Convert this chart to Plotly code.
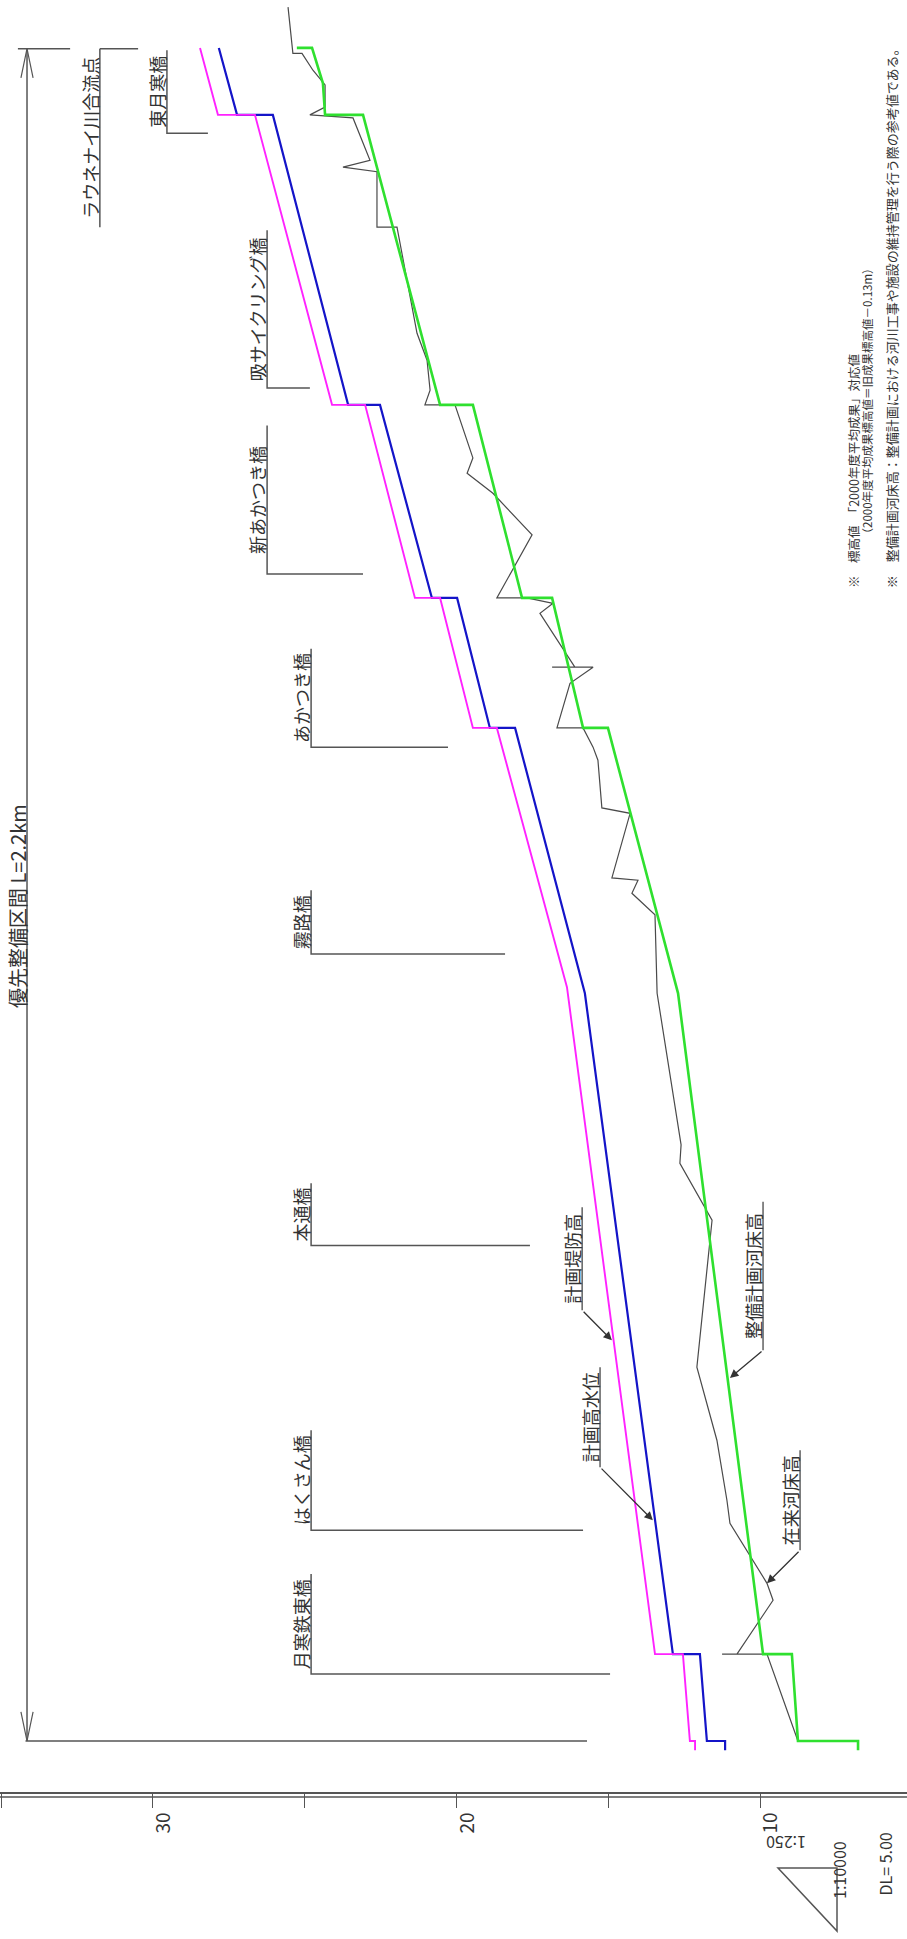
import plotly.graph_objects as go

# ---------------- data (distance from downstream end in m, elevation in m) ----------------
dike_dist = [-12, 0, 0, 113, 113, 980, 1317, 1317, 1486, 1486, 1737, 1737, 2114, 2114, 2201]
dike_elev = [12.14, 12.14, 12.31, 12.54, 13.46, 16.36, 18.67, 19.46, 20.54, 21.37, 23.01, 24.10, 26.64, 27.86, 28.45]

hwl_dist = [-12, 0, 0, 113, 113, 972, 1317, 1317, 1486, 1486, 1737, 1737, 2114, 2114, 2201]
hwl_elev = [11.15, 11.15, 11.75, 11.98, 12.87, 15.77, 18.07, 18.90, 19.98, 20.81, 22.52, 23.57, 26.05, 27.23, 27.83]

plan_bed_dist = [-12, 0, 0, 113, 113, 972, 1317, 1317, 1486, 1486, 1737, 1737, 2114, 2114, 2155, 2201, 2201]
plan_bed_elev = [6.77, 6.77, 8.75, 8.95, 9.90, 12.70, 15.01, 15.83, 16.85, 17.84, 19.46, 20.54, 23.08, 24.33, 24.40, 24.76, 25.26]

existing_bed_dist = [0, 113, 113, 113, 183, 205, 283, 313, 391, 486, 677, 751, 775, 972, 1074, 1102,
                     1119, 1122, 1206, 1213, 1275, 1292, 1317, 1317, 1375, 1396, 1396, 1396, 1466, 1479,
                     1486, 1486, 1568, 1622, 1648, 1668, 1737, 1737, 1756, 1795, 1830, 1968, 1968, 2040,
                     2046, 2055, 2110, 2114, 2124, 2153, 2172, 2194, 2194, 2254]
existing_bed_elev = [8.75, 9.77, 11.25, 10.76, 9.57, 9.77, 10.99, 11.09, 11.42, 12.08, 11.58, 12.64, 12.60,
                     13.39, 13.46, 14.22, 14.02, 14.88, 14.28, 15.21, 15.34, 15.50, 15.83, 16.69, 16.26,
                     15.50, 16.85, 16.10, 17.25, 16.82, 17.68, 18.67, 17.51, 18.80, 19.65, 19.46, 20.05,
                     21.04, 20.87, 20.97, 21.30, 21.96, 22.62, 22.62, 23.74, 22.85, 23.41, 24.83, 24.33,
                     24.33, 24.73, 25.09, 25.39, 25.55]

bridge_names = ["東月寒橋", "吸サイクリング橋", "新あかつき橋", "あかつき橋", "霧路橋", "本通橋", "はくさん橋", "月寒鉄東橋"]
bridge_dist = [2090, 1759, 1517, 1292, 1023, 644, 274, 87]
bridge_label_elev = [29.54, 26.24, 26.24, 24.79, 24.79, 24.79, 24.79, 24.79]
bridge_label_top = [2198, 1964, 1710, 1420, 1106, 725, 404, 217]
bridge_line_end_elev = [28.19, 24.83, 23.08, 20.28, 18.40, 17.58, 15.83, 14.94]

leader_names = ["計画堤防高", "計画高水位", "整備計画河床高", "在来河床高"]
leader_elev = [15.86, 15.27, 9.90, 8.68]
leader_top = [694, 486, 701, 378]
leader_bottom = [560, 356, 508, 248]
leader_tip_elev = [14.88, 13.53, 10.99, 9.77]
leader_tip_dist = [521, 287, 472, 205]

section_length_m = 2200
section_label = "優先整備区間 L=2.2km"
confluence_label = "ラウネナイ川合流点"
elev_tick_labels = ["10", "20", "30"]

notes = ["※　標高値　「2000年度平均成果」対応値",
         "（2000年度平均成果標高値＝旧成果標高値－0.13m）",
         "※　整備計画河床高：整備計画における河川工事や施設の維持管理を行う際の参考値である。"]

# ---------------- figure ----------------
FONT = "Noto Sans CJK JP"
GRAY = "#555555"
TXT = "#333333"

fig = go.Figure()

def line(xs, ys, color, width):
    fig.add_trace(go.Scatter(x=xs, y=ys, mode="lines", line=dict(color=color, width=width),
                             hoverinfo="skip", showlegend=False))

# profile lines
line(existing_bed_elev, existing_bed_dist, "#4a4a4a", 1.2)
line(plan_bed_elev, plan_bed_dist, "#2fe02f", 2.6)
line(hwl_elev, hwl_dist, "#1414c8", 2.2)
line(dike_elev, dike_dist, "#ff22ff", 1.9)

# dimension line of priority section
dim_e = 34.15
line([dim_e, dim_e], [0, section_length_m], GRAY, 1.5)
line([dim_e + 0.2, dim_e, dim_e - 0.2], [section_length_m - 38, section_length_m, section_length_m - 38], GRAY, 1.2)
line([dim_e + 0.2, dim_e, dim_e - 0.2], [38, 0, 38], GRAY, 1.2)
line([34.45, 32.73], [section_length_m, section_length_m], GRAY, 1.5)
line([31.75, 30.49], [section_length_m, section_length_m], GRAY, 1.5)
line([34.2, 15.70], [0, 0], GRAY, 1.5)
# confluence label underline
line([31.75, 31.75], [section_length_m, 1968], GRAY, 1.5)

# bridges
bx, by = [], []
for e_lab, top, d, e_end in zip(bridge_label_elev, bridge_label_top, bridge_dist, bridge_line_end_elev):
    bx += [e_lab, e_lab, e_end, None]
    by += [top, d, d, None]
line(bx, by, GRAY, 1.5)

# leader underlines
lx, ly = [], []
for e, t, b in zip(leader_elev, leader_top, leader_bottom):
    lx += [e, e, None]
    ly += [t, b, None]
line(lx, ly, GRAY, 1.4)

annotations = []
for name, e_lab, top, d in zip(bridge_names, bridge_label_elev, bridge_label_top, bridge_dist):
    annotations.append(dict(x=e_lab + 0.33, y=(top + d) / 2, xref="x", yref="y", text=name,
                            textangle=-90, showarrow=False, xanchor="center", yanchor="middle",
                            font=dict(family=FONT, size=18, color=TXT)))
for name, e, t, b, te, td in zip(leader_names, leader_elev, leader_top, leader_bottom,
                                 leader_tip_elev, leader_tip_dist):
    annotations.append(dict(x=e + 0.33, y=(t + b) / 2, xref="x", yref="y", text=name,
                            textangle=-90, showarrow=False, xanchor="center", yanchor="middle",
                            font=dict(family=FONT, size=18, color=TXT)))
    annotations.append(dict(x=te, y=td, ax=e, ay=b, xref="x", yref="y", axref="x", ayref="y",
                            text="", showarrow=True, arrowhead=2, arrowsize=1.3, arrowwidth=1.3,
                            arrowcolor=TXT, standoff=0, startstandoff=0))

annotations.append(dict(x=32.08, y=2084, xref="x", yref="y", text=confluence_label, textangle=-90,
                        showarrow=False, font=dict(family=FONT, size=18, color=TXT)))
annotations.append(dict(x=34.46, y=1085, xref="x", yref="y", text=section_label, textangle=-90,
                        showarrow=False, font=dict(family=FONT, size=20, color=TXT)))

# notes (top right)
annotations.append(dict(x=6.94, y=1496, xref="x", yref="y", text=notes[0], textangle=-90,
                        showarrow=False, yanchor="bottom", font=dict(family=FONT, size=12.5, color=TXT)))
annotations.append(dict(x=6.47, y=1559, xref="x", yref="y", text=notes[1], textangle=-90,
                        showarrow=False, yanchor="bottom", font=dict(family=FONT, size=11.5, color=TXT)))
annotations.append(dict(x=5.68, y=1496, xref="x", yref="y", text=notes[2], textangle=-90,
                        showarrow=False, yanchor="bottom", font=dict(family=FONT, size=13, color=TXT)))

# scale triangle + datum in bottom margin (paper coords)
PH = 1792.0
def py(p):
    return (PH - p) / PH
def px(p):
    return p / 907.0

annotations.append(dict(x=px(808), y=py(1857), xref="paper", yref="paper", text="1:250", textangle=180,
                        showarrow=False, font=dict(family=FONT, size=16, color=TXT)))
annotations.append(dict(x=px(853), y=py(1901), xref="paper", yref="paper", text="1:10000", textangle=-90,
                        showarrow=False, font=dict(family=FONT, size=16, color=TXT)))
annotations.append(dict(x=px(898), y=py(1898), xref="paper", yref="paper", text="DL= 5.00", textangle=-90,
                        showarrow=False, font=dict(family=FONT, size=16, color=TXT)))

shapes = [
    dict(type="path", xref="paper", yref="paper",
         path=f"M {px(778)} {py(1868)} L {px(837)} {py(1868)} L {px(837)} {py(1931)} Z",
         line=dict(color=GRAY, width=1.5)),
    dict(type="line", xref="paper", yref="paper", x0=0, x1=1, y0=py(1797), y1=py(1797),
         line=dict(color=GRAY, width=1.5)),
]

fig.update_layout(
    width=907, height=1939, autosize=False,
    margin=dict(l=0, r=0, t=0, b=147, pad=0),
    paper_bgcolor="white", plot_bgcolor="white",
    showlegend=False,
    annotations=annotations,
    shapes=shapes,
    xaxis=dict(range=[35.04, 5.157], showgrid=False, zeroline=False,
               showline=True, linecolor=GRAY, linewidth=1.5,
               tickmode="array", tickvals=[float(t) for t in elev_tick_labels], ticktext=elev_tick_labels,
               ticks="outside", ticklen=14, tickcolor=GRAY, tickwidth=1.2,
               tickangle=-90, tickfont=dict(family=FONT, size=19, color=TXT),
               ticklabelshift=-11, ticklabelstandoff=-3,
               minor=dict(tickvals=[35, 25, 15], ticks="outside", ticklen=14, tickcolor=GRAY, tickwidth=1.2,
                          showgrid=False)),
    yaxis=dict(range=[-66.3, 2263.3], visible=False, showgrid=False, zeroline=False),
)

fig.write_html("out.html", config={"displayModeBar": False},
               post_script="document.body.style.margin='0';")
